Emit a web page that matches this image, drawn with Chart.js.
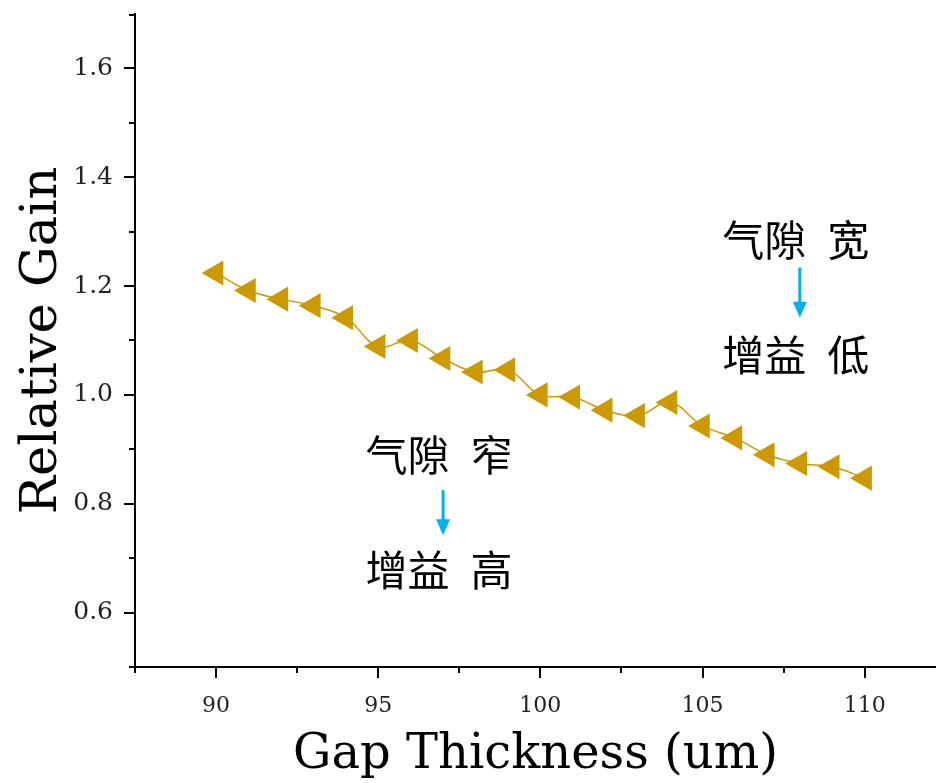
<!DOCTYPE html>
<html>
<head>
<meta charset="utf-8">
<title>Relative Gain vs Gap Thickness</title>
<script src="https://cdn.jsdelivr.net/npm/chart.js@4/dist/chart.umd.min.js"></script>
<style>
  html, body { margin: 0; padding: 0; background: #fff; overflow: hidden; }
  canvas { display: block; }
</style>
</head>
<body>
<canvas id="gainChart" width="936" height="783"></canvas>
<script>
// gap thickness (um) and the measured relative gain at each step
const gapThickness = [90, 91, 92, 93, 94, 95, 96, 97, 98, 99, 100,
                      101, 102, 103, 104, 105, 106, 107, 108, 109, 110];
const relativeGain = [1.224, 1.192, 1.176, 1.164, 1.142, 1.089, 1.100, 1.067, 1.042, 1.046, 1.000,
                      0.996, 0.972, 0.962, 0.986, 0.943, 0.921, 0.890, 0.874, 0.868, 0.847];

// tick values (labelled ones get the long mark)
const xTickValues = [87.5, 90, 92.5, 95, 97.5, 100, 102.5, 105, 107.5, 110];
const yTickValues = [0.5, 0.6, 0.7, 0.8, 0.9, 1.0, 1.1, 1.2, 1.3, 1.4, 1.5, 1.6, 1.7];
const xLabelled = [90, 95, 100, 105, 110];
const yLabelled = [0.6, 0.8, 1.0, 1.2, 1.4, 1.6];

const xTitle = "Gap Thickness (um)";
const yTitle = "Relative Gain";

// two captions with a down arrow between them, anchored in data units
const notes = [
  { x: 97,  top: "气隙\u2002窄", bottom: "增益\u2002高", topY: 0.89,  arrowFrom: 0.825, arrowTo: 0.742, bottomY: 0.679 },
  { x: 108, top: "气隙\u2002宽", bottom: "增益\u2002低", topY: 1.285, arrowFrom: 1.234, arrowTo: 1.142, bottomY: 1.074 }
];

const lineColor = "#cc9900";
const arrowColor = "#00b0f0";
const serif = "'DejaVu Serif', 'Liberation Serif', serif";

const isLabelled = (list, v) => list.some(l => Math.abs(l - v) < 1e-6);

// major/minor tick marks drawn outward from the axis lines
const tickMarks = {
  id: "tickMarks",
  afterDraw(chart) {
    const ctx = chart.ctx;
    const xs = chart.scales.x, ys = chart.scales.y;
    const area = chart.chartArea;
    ctx.save();
    ctx.strokeStyle = "#000";
    ctx.lineWidth = 2;
    ys.ticks.forEach(t => {
      const len = isLabelled(yLabelled, t.value) ? 11 : 6;
      let py = Math.round(ys.getPixelForValue(t.value));
      py = Math.max(py, area.top + 1);
      ctx.beginPath();
      ctx.moveTo(area.left, py);
      ctx.lineTo(area.left - len, py);
      ctx.stroke();
    });
    xs.ticks.forEach(t => {
      const len = isLabelled(xLabelled, t.value) ? 11 : 6;
      let px = Math.round(xs.getPixelForValue(t.value));
      px = Math.max(px, area.left - 1);
      ctx.beginPath();
      ctx.moveTo(px, area.bottom);
      ctx.lineTo(px, area.bottom + len);
      ctx.stroke();
    });
    ctx.restore();
  }
};

// Chinese captions and blue arrows
const captions = {
  id: "captions",
  afterDraw(chart) {
    const ctx = chart.ctx;
    const xs = chart.scales.x, ys = chart.scales.y;
    ctx.save();
    ctx.font = "42px 'Noto Sans CJK SC', sans-serif";
    ctx.textAlign = "center";
    ctx.textBaseline = "middle";
    notes.forEach(n => {
      const px = xs.getPixelForValue(n.x);
      ctx.fillStyle = "#000";
      ctx.fillText(n.top, px - 4, ys.getPixelForValue(n.topY));
      ctx.fillText(n.bottom, px - 4, ys.getPixelForValue(n.bottomY));

      const y0 = ys.getPixelForValue(n.arrowFrom);
      const y1 = ys.getPixelForValue(n.arrowTo);
      ctx.strokeStyle = arrowColor;
      ctx.fillStyle = arrowColor;
      ctx.lineWidth = 3;
      ctx.beginPath();
      ctx.moveTo(px, y0);
      ctx.lineTo(px, y1 - 12);
      ctx.stroke();
      ctx.beginPath();
      ctx.moveTo(px - 7, y1 - 16);
      ctx.lineTo(px + 7, y1 - 16);
      ctx.lineTo(px, y1);
      ctx.closePath();
      ctx.fill();
    });
    ctx.restore();
  }
};

new Chart(document.getElementById("gainChart"), {
  type: "line",
  data: {
    datasets: [{
      data: gapThickness.map((g, i) => ({ x: g, y: relativeGain[i] })),
      borderColor: lineColor,
      borderWidth: 1.5,
      backgroundColor: lineColor,
      pointBackgroundColor: lineColor,
      pointBorderColor: lineColor,
      pointBorderWidth: 0,
      pointStyle: "triangle",
      rotation: -90,
      pointRadius: 14.5,
      tension: 0.4,
      fill: false
    }]
  },
  options: {
    responsive: false,
    devicePixelRatio: 1,
    animation: false,
    layout: { autoPadding: false, padding: { top: 14, left: 0, right: 0, bottom: 0 } },
    plugins: { legend: { display: false }, tooltip: { enabled: false } },
    scales: {
      x: {
        type: "linear",
        min: 87.5,
        max: 112.2,
        afterBuildTicks(scale) { scale.ticks = xTickValues.map(v => ({ value: v })); },
        afterFit(scale) {
          scale.height = 116;
          scale.paddingLeft = 0;
          scale.paddingRight = 0;
        },
        grid: { display: false, drawTicks: false },
        border: { display: true, color: "#000", width: 2 },
        ticks: {
          autoSkip: false,
          maxRotation: 0,
          padding: 26,
          color: "#222",
          font: { family: serif, size: 22 },
          callback: v => (isLabelled(xLabelled, v) ? String(v) : "")
        },
        title: {
          display: true,
          text: xTitle,
          color: "#000",
          font: { family: serif, size: 48, lineHeight: 1 },
          padding: { top: 0, bottom: 3 }
        }
      },
      y: {
        min: 0.5,
        max: 1.7,
        afterBuildTicks(scale) { scale.ticks = yTickValues.map(v => ({ value: v })); },
        afterFit(scale) {
          scale.width = 135;
          scale.paddingTop = 0;
          scale.paddingBottom = 0;
        },
        grid: { display: false, drawTicks: false },
        border: { display: true, color: "#000", width: 2 },
        ticks: {
          autoSkip: false,
          padding: 22,
          color: "#222",
          font: { family: serif, size: 25 },
          callback: v => (isLabelled(yLabelled, v) ? v.toFixed(1) : "")
        },
        title: {
          display: true,
          text: yTitle,
          color: "#000",
          font: { family: serif, size: 51, lineHeight: 1 },
          padding: { top: 17, bottom: 0 }
        }
      }
    }
  },
  plugins: [tickMarks, captions]
});
</script>
</body>
</html>
